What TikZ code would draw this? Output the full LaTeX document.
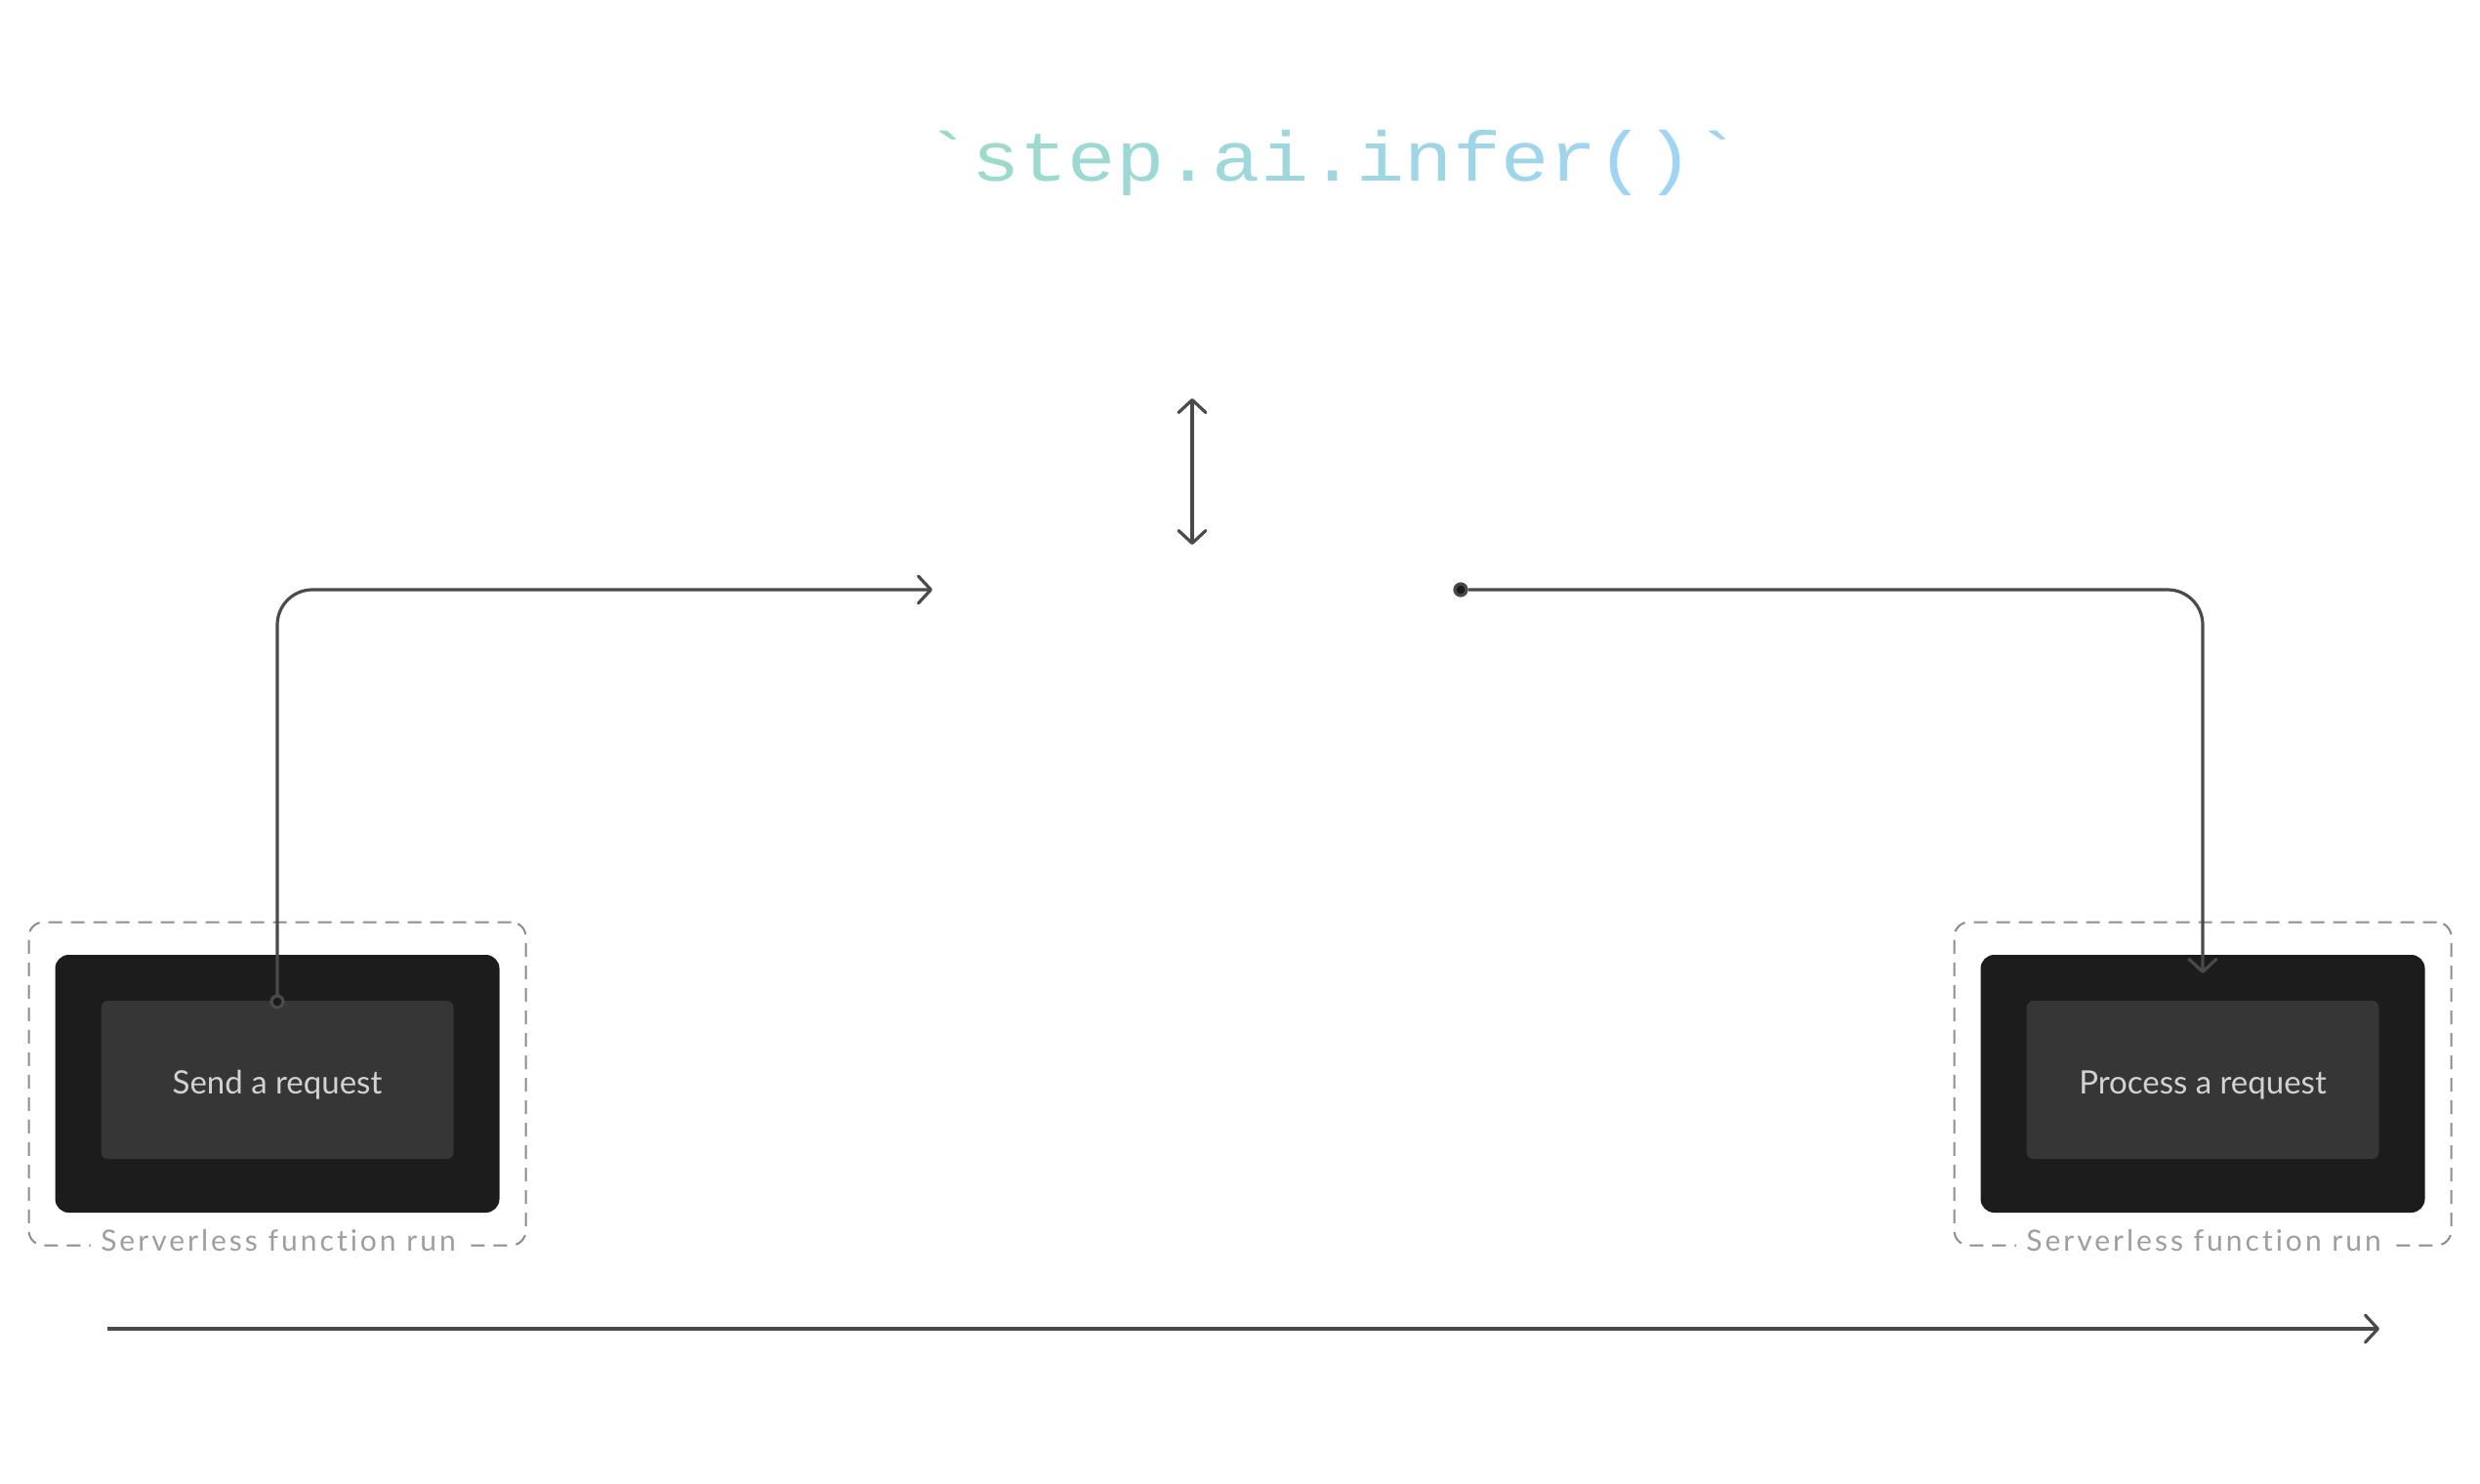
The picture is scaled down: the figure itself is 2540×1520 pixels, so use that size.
\documentclass[tikz,border=0pt]{standalone}
\usepackage{fontspec}
\usetikzlibrary{arrows.meta}
\newfontfamily\titlefont[FakeStretch=1.14,Ligatures=TeXOff]{Liberation Mono}
\newfontfamily\boxfont[Ligatures=NoCommon]{Lato}
\newfontfamily\labelfont[LetterSpace=10,Ligatures=NoCommon]{Lato}
\definecolor{tA}{RGB}{155,218,202}
\definecolor{tB}{RGB}{160,212,246}
\definecolor{linec}{RGB}{74,74,74}
\definecolor{darkbox}{RGB}{28,28,28}
\definecolor{innerbox}{RGB}{54,54,54}
\definecolor{dashc}{RGB}{140,140,140}
\definecolor{labelc}{RGB}{158,158,158}
\definecolor{boxtxt}{RGB}{210,210,210}
\newcommand\gc[2]{\textcolor{tB!#1!tA}{#2}}
\tikzset{
  conn/.style={draw=linec, line width=3.2pt},
  >={Straight Barb[length=13pt,width=28pt,round]},
  outerbox/.style={draw=dashc, line width=2pt, dash pattern=on 14pt off 9pt, rounded corners=15pt, minimum width=509pt, minimum height=331pt, inner sep=0pt},
  darkrect/.style={fill=darkbox, rounded corners=14pt, minimum width=455pt, minimum height=264pt, inner sep=0pt},
  innerrect/.style={fill=innerbox, rounded corners=7pt, minimum width=361pt, minimum height=162pt, inner sep=0pt},
  boxtext/.style={text=boxtxt, font=\boxfont\fontsize{33}{38}\selectfont, inner sep=0pt, anchor=base},
  runlabel/.style={text=labelc, fill=white, font=\labelfont\fontsize{30}{34}\selectfont, inner xsep=10pt, inner ysep=4pt, anchor=base},
  ringdot/.style={circle, draw=linec, fill=darkbox, line width=3.2pt, minimum size=12pt, inner sep=0pt},
}
\begin{document}
\begin{tikzpicture}[x=1pt,y=-1pt]
\useasboundingbox[fill=white] (0,0) rectangle (2540,1520);
% title
\node[anchor=base west, inner sep=0pt, font=\titlefont\fontsize{72}{80}\selectfont] (title) at (946,185)
 {\gc{0}{\symbol{96}}\gc{6}{s}\gc{12}{t}\gc{19}{e}\gc{25}{p}\gc{31}{.}\gc{38}{a}\gc{44}{i}\gc{50}{.}\gc{56}{i}\gc{62}{n}\gc{69}{f}\gc{75}{e}\gc{81}{r}\gc{88}{(}\gc{94}{)}\gc{100}{\symbol{96}}};
% left box
\node[outerbox] (lout) at (284,1110) {};
\node[darkrect] (ldark) at (284,1110) {};
\node[innerrect] (linner) at (284,1106) {};
\node[boxtext] (ltext) at (284,1120) {Send a request};
\node[runlabel] (llabel) at (285,1281) {Serverless function run};
% right box
\node[outerbox] (rout) at (2256,1110) {};
\node[darkrect] (rdark) at (2256,1110) {};
\node[innerrect] (rinner) at (2256,1106) {};
\node[boxtext] (rtext) at (2256,1120) {Process a request};
\node[runlabel] (rlabel) at (2257,1281) {Serverless function run};
% connectors
\coordinate (lend) at (955,604);
\coordinate (rin) at (2256,997);
\coordinate (vtop) at (1221,408);
\coordinate (vbot) at (1221,558);
\coordinate (t0) at (110,1361);
\coordinate (t1) at (2437,1361);
\draw[conn, ->, rounded corners=36pt] (284,1026) |- (lend);
\node[ringdot] (ldot) at (284,1026) {};
\node[ringdot] (rdot) at (1496,604) {};
\draw[conn, ->, rounded corners=36pt] (rdot.east) -| (rin);
\draw[conn, <->] (vtop) -- (vbot);
\draw[conn, ->] (t0) -- (t1);
\end{tikzpicture}
\end{document}
